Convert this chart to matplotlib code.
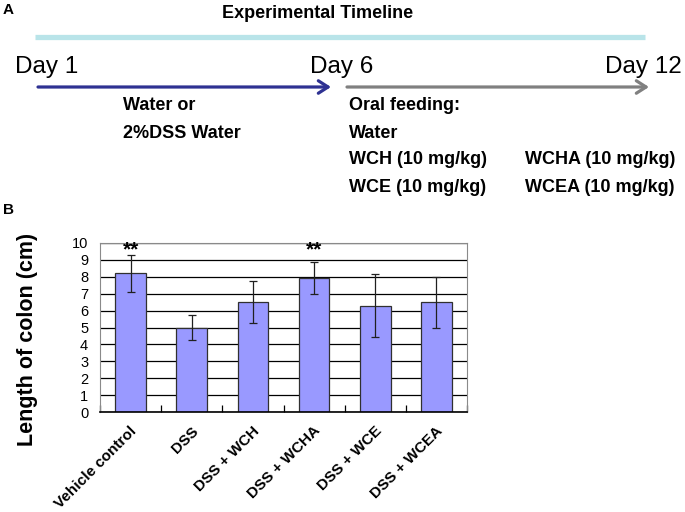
import numpy as np
import matplotlib
matplotlib.use("Agg")
import matplotlib.pyplot as plt

plt.rcParams["font.family"] = ["Liberation Sans", "DejaVu Sans"]

# panel B data: colon length (cm), mean and error
groups = ["Vehicle control", "DSS", "DSS + WCH", "DSS + WCHA", "DSS + WCE", "DSS + WCEA"]
lengths = [8.2, 5.0, 6.5, 7.95, 6.3, 6.5]
errors = [1.1, 0.75, 1.25, 0.95, 1.85, 1.5]
signif = ["**", "", "", "**", "", ""]

# panel A timeline text
days = ["Day 1", "Day 6", "Day 12"]
phase1 = ["Water or", "2%DSS Water"]
phase2 = ["Oral feeding:", "Water", "WCH (10 mg/kg)", "WCE (10 mg/kg)"]
phase2b = ["WCHA (10 mg/kg)", "WCEA (10 mg/kg)"]

W, H = 685, 512
fig = plt.figure(figsize=(W / 100, H / 100), dpi=100)

# ---- panel A: drawn on a pixel-coordinate overlay ----
ov = fig.add_axes([0, 0, 1, 1])
ov.set_xlim(0, W); ov.set_ylim(H, 0); ov.axis("off")

ov.text(3, 10, "A", fontsize=11, fontweight="bold", va="center", ha="left")
ov.text(318, 13, "Experimental Timeline", fontsize=13, fontweight="bold",
        ha="center", va="center")
ov.plot([35, 645], [37, 37], color="#b9e4e9", lw=3.8, solid_capstyle="butt")

for d, x in zip(days, [15, 310, 605]):
    ov.text(x, 67, d, fontsize=17.5, ha="left", va="center")

ov.annotate("", xy=(331, 87), xytext=(38, 87),
            arrowprops=dict(arrowstyle="->,head_length=0.7,head_width=0.45",
                            color="#2e3192", lw=2.3, shrinkA=0, shrinkB=0))
ov.annotate("", xy=(649, 87), xytext=(347, 87),
            arrowprops=dict(arrowstyle="->,head_length=0.7,head_width=0.45",
                            color="#808080", lw=2.3, shrinkA=0, shrinkB=0))

for t, y in zip(phase1, [106, 133]):
    ov.text(123, y, t, fontsize=13, fontweight="bold", ha="left", va="center")
for t, y in zip(phase2, [106, 133, 160, 187]):
    ov.text(349, y, t, fontsize=13, fontweight="bold", ha="left", va="center")
for t, y in zip(phase2b, [160, 187]):
    ov.text(525, y, t, fontsize=13, fontweight="bold", ha="left", va="center")

ov.text(3, 210, "B", fontsize=11, fontweight="bold", va="center", ha="left")

# ---- panel B: bar chart ----
ax = fig.add_axes([100 / W, (H - 412) / H, 367 / W, 169 / H])
x = np.arange(len(groups))
ax.set_axisbelow(True)
ax.yaxis.grid(True, color="black", lw=0.9)
ax.bar(x, lengths, width=0.5, color="#9999ff", edgecolor="#303030", lw=0.9, zorder=2)
ax.errorbar(x, lengths, yerr=errors, fmt="none", ecolor="#202020", elinewidth=0.9,
            capsize=3, capthick=0.9, zorder=3)
for xi, s in zip(x, signif):
    if s:
        ax.text(xi, 9.6, s, fontsize=15, fontweight="bold", ha="center", va="center")

ax.set_xlim(-0.5, len(groups) - 0.5)
ax.set_ylim(0, 10)
ax.set_yticks(range(0, 11))
ax.tick_params(axis="y", length=0, labelsize=10.5, pad=8.5)
ax.set_xticks(np.arange(len(groups) + 1) - 0.5)
ax.set_xticklabels([])
ax.tick_params(axis="x", direction="in", length=5, width=0.9)
for xi, g in zip(x, groups):
    ax.annotate(g, xy=(xi, 0), xytext=(3, -12), textcoords="offset points",
                ha="right", va="center", rotation=45, rotation_mode="anchor",
                fontsize=11, fontweight="bold", annotation_clip=False)
for sp in ["top", "right", "left"]:
    ax.spines[sp].set_color("#8a8a8a")
ax.spines["bottom"].set_color("black")
ax.spines["bottom"].set_linewidth(1.2)
ax.set_ylabel("Length of colon (cm)", fontsize=15.5, fontweight="bold")
ax.yaxis.set_label_coords(-0.17, 0.43)

fig.savefig("out.png", dpi=100)
